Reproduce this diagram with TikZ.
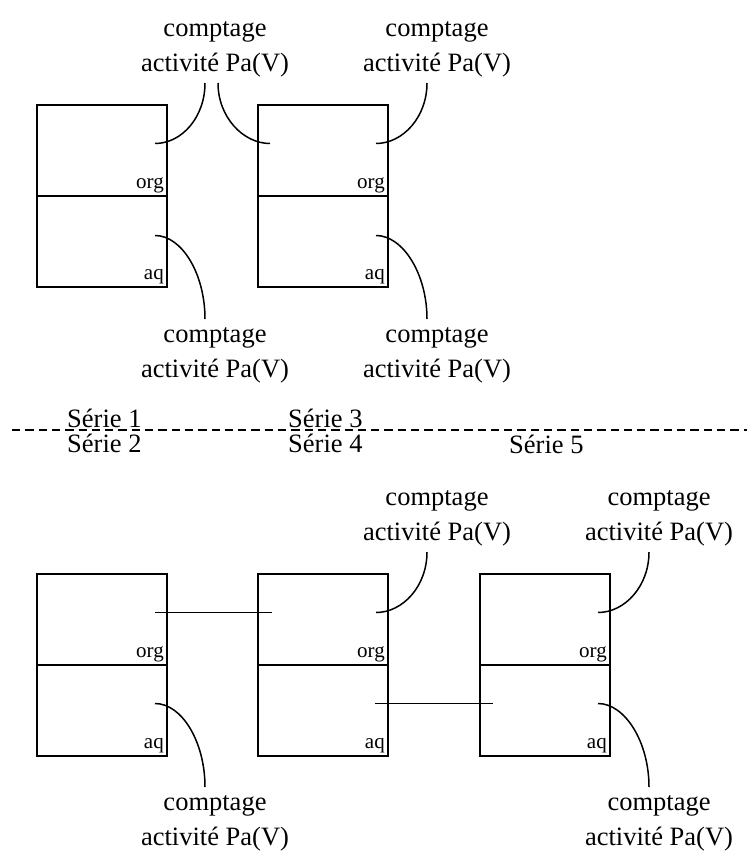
\documentclass[tikz,border=0pt]{standalone}
\usepackage{fontspec}
\setmainfont{Liberation Serif}
\usetikzlibrary{positioning,calc}

\begin{document}
\begin{tikzpicture}[
  x=1pt,y=-1pt,
  half/.style={draw,line width=1.5pt,minimum width=130pt,minimum height=91pt,inner sep=0pt,outer sep=0pt},
  tag/.style={font=\fontsize{21}{24}\selectfont,inner sep=3pt,anchor=south east},
  cnt/.style={align=center,font=\fontsize{26.5}{35}\selectfont,inner sep=0pt},
  serie/.style={font=\fontsize{26.5}{30}\selectfont,inner sep=0pt,anchor=base west},
  link/.style={line width=1.5pt}
]
\useasboundingbox (0,0) rectangle (747,851);

% upper row
\node[half] (orgA) at (102,150.5) {};
\node[half,below=0pt of orgA] (aqA) {};
\node[half] (orgB) at (323,150.5) {};
\node[half,below=0pt of orgB] (aqB) {};

% lower row
\node[half] (orgC) at (102,619.5) {};
\node[half,below=0pt of orgC] (aqC) {};
\node[half] (orgD) at (323,619.5) {};
\node[half,below=0pt of orgD] (aqD) {};
\node[half] (orgE) at (545,619.5) {};
\node[half,below=0pt of orgE] (aqE) {};

\foreach \b in {A,B,C,D,E} {
  \node[tag] at (org\b.south east) {org};
  \node[tag] at (aq\b.south east) {aq};
}

% counting labels
\node[cnt,anchor=south] (cntAB) at (215,77) {comptage\\activité Pa(V)};
\node[cnt,anchor=south] (cntB) at (437,77) {comptage\\activité Pa(V)};
\node[cnt,anchor=north] (cntA2) at (215,327) {comptage\\activité Pa(V)};
\node[cnt,anchor=north] (cntB2) at (437,327) {comptage\\activité Pa(V)};
\node[cnt,anchor=south] (cntD) at (437,546) {comptage\\activité Pa(V)};
\node[cnt,anchor=south] (cntE) at (659,546) {comptage\\activité Pa(V)};
\node[cnt,anchor=north] (cntC2) at (215,795) {comptage\\activité Pa(V)};
\node[cnt,anchor=north] (cntE2) at (659,795) {comptage\\activité Pa(V)};

% separation and series
\coordinate (sepL) at (12,430);
\coordinate (sepR) at (747,430);
\draw[link,dash pattern=on 8.3pt off 5pt] (sepL) -- (sepR);
\node[serie] (s1) at (67,427) {Série 1};
\node[serie] (s2) at (67,452) {Série 2};
\node[serie] (s3) at (288,427) {Série 3};
\node[serie] (s4) at (288,452) {Série 4};
\node[serie] (s5) at (509,453) {Série 5};

% points inside the boxes
\coordinate (pA) at ($(orgA.east)+(-12,-7)$);
\coordinate (pB) at ($(orgB.east)+(-12,-7)$);
\coordinate (pBl) at ($(orgB.west)+(12,-7)$);
\coordinate (qA) at ($(aqA.east)+(-12,-6)$);
\coordinate (qB) at ($(aqB.east)+(-12,-6)$);
\coordinate (pC) at ($(orgC.east)+(-12,-7)$);
\coordinate (pDl) at ($(orgD.west)+(14,-7)$);
\coordinate (pD) at ($(orgD.east)+(-12,-7)$);
\coordinate (pE) at ($(orgE.east)+(-12,-7)$);
\coordinate (qC) at ($(aqC.east)+(-12,-7)$);
\coordinate (qD) at ($(aqD.east)+(-13,-7)$);
\coordinate (qEl) at ($(aqE.west)+(13,-7)$);
\coordinate (qE) at ($(aqE.east)+(-12,-7)$);

% curved leaders
\draw[link] (pA) .. controls +(27,0) and +(0,34) .. ($(cntAB.south)+(-10,6)$);
\draw[link] ($(cntAB.south)+(3,6)$) .. controls +(0,34) and +(-27,0) .. (pBl);
\draw[link] (pB) .. controls +(27,0) and +(0,34) .. ($(cntB.south)+(-10,6)$);
\draw[link] (qA) .. controls +(27,0) and +(0,-45) .. ($(cntA2.north)+(-10,-8)$);
\draw[link] (qB) .. controls +(27,0) and +(0,-45) .. ($(cntB2.north)+(-10,-8)$);
\draw[link] (pD) .. controls +(27,0) and +(0,34) .. ($(cntD.south)+(-10,6)$);
\draw[link] (pE) .. controls +(27,0) and +(0,34) .. ($(cntE.south)+(-10,6)$);
\draw[link] (qC) .. controls +(27,0) and +(0,-45) .. ($(cntC2.north)+(-10,-8)$);
\draw[link] (qE) .. controls +(27,0) and +(0,-45) .. ($(cntE2.north)+(-10,-8)$);

% transfers between boxes
\draw[link] (pC) -- (pDl);
\draw[link] (qD) -- (qEl);

\end{tikzpicture}
\end{document}
